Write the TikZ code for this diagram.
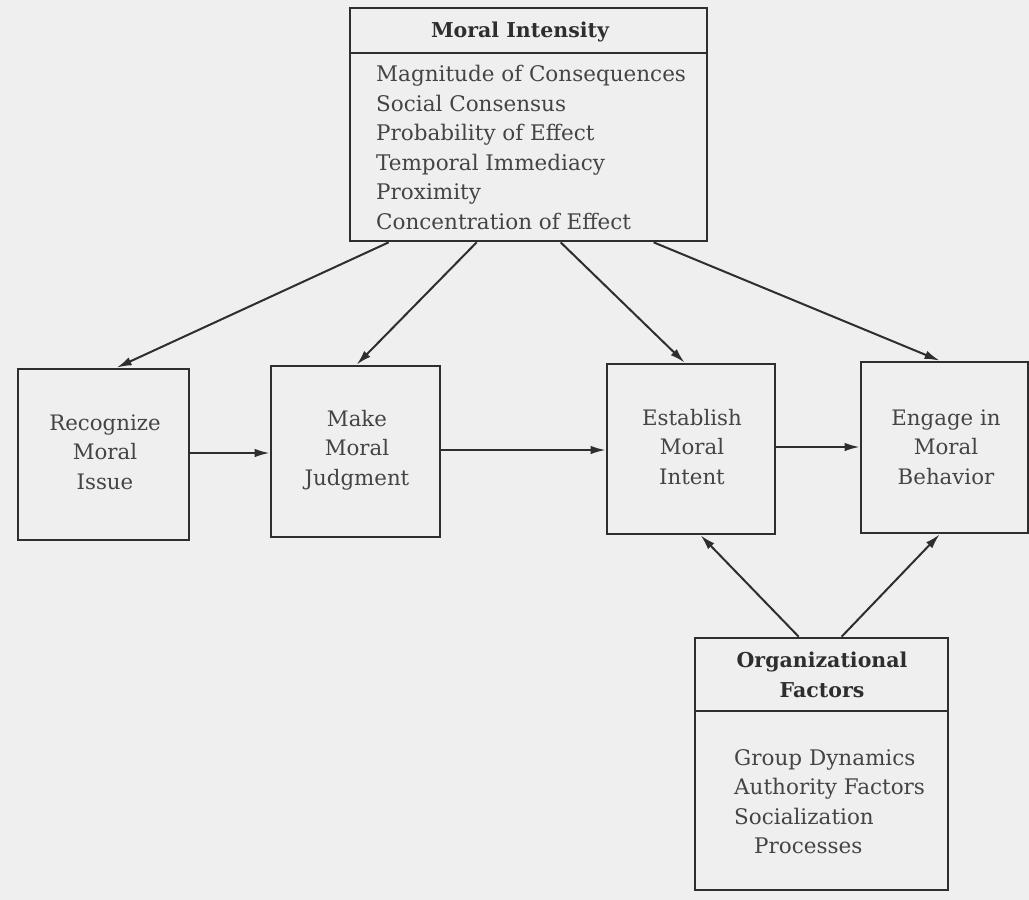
\documentclass[tikz,border=0pt]{standalone}
\usepackage{fontspec}
\setmainfont{DejaVu Serif}
\usetikzlibrary{arrows.meta,calc}
\definecolor{bg}{HTML}{EFEFEF}
\definecolor{ink}{HTML}{2E2E2E}
\definecolor{txt}{HTML}{444444}
\begin{document}
\begin{tikzpicture}[x=1pt,y=-1pt,
  box/.style={draw=ink,line width=2.7pt,rectangle,inner sep=0pt,fill=none},
  lbl/.style={text=txt,font=\fontsize{21.3}{29.5}\selectfont,align=center,inner sep=0pt},
  hdr/.style={text=ink,font=\fontsize{20.5}{29.5}\selectfont\bfseries,align=center,inner sep=0pt},
  lst/.style={text=txt,font=\fontsize{21.5}{29.5}\selectfont,align=left,inner sep=0pt,anchor=north west},
  arr/.style={draw=ink,line width=2pt,-{Latex[length=15pt,width=8.5pt]}}]
\fill[bg] (0,0) rectangle (1029,900);
\useasboundingbox (0,0) rectangle (1029,900);
% boxes
\node[box,minimum width=357pt,minimum height=233pt] (mi) at (528.5,124.5) {};
\node[box,minimum width=171pt,minimum height=171pt] (rec) at (103.5,454.5) {};
\node[box,minimum width=169pt,minimum height=171pt] (mak) at (355.5,451.5) {};
\node[box,minimum width=168pt,minimum height=170pt] (est) at (691,449) {};
\node[box,minimum width=167pt,minimum height=171pt] (eng) at (944.5,447.5) {};
\node[box,minimum width=253pt,minimum height=252pt] (org) at (821.5,764) {};
% dividers
\coordinate (mid1) at (350,53);
\coordinate (mid2) at (707,53);
\draw[ink,line width=2.7pt] (mid1) -- (mid2);
\coordinate (od1) at (695,711);
\coordinate (od2) at (948,711);
\draw[ink,line width=2.7pt] (od1) -- (od2);
% texts
\node[hdr] (mih) at (520,32) {Moral Intensity};
\node[lst] (mil) at (376,65) {Magnitude of Consequences\\Social Consensus\\Probability of Effect\\Temporal Immediacy\\Proximity\\Concentration of Effect};
\node[lbl] (rect) at (105,452) {Recognize\\Moral\\Issue};
\node[lbl] (makt) at (357,450) {Make\\Moral\\Judgment};
\node[lbl] (estt) at (692,447) {Establish\\Moral\\Intent};
\node[lbl] (engt) at (946,447) {Engage in\\Moral\\Behavior};
\node[hdr] (orgh) at (822,675) {Organizational\\Factors};
\node[lst] (orgl) at (734,749) {Group Dynamics\\Authority Factors\\Socialization\\\hspace*{20pt}Processes};
% arrows
\draw[arr] ([xshift=40pt]mi.south west) -- ([xshift=100pt]rec.north west);
\draw[arr] ([xshift=128pt]mi.south west) -- ([xshift=87pt]mak.north west);
\draw[arr] ([xshift=212pt]mi.south west) -- ([xshift=79pt]est.north west);
\draw[arr] ([xshift=305pt]mi.south west) -- ([xshift=80pt]eng.north west);
\coordinate (h1) at (0,453);
\coordinate (h2) at (0,450);
\coordinate (h3) at (0,447);
\draw[arr] (rec.east |- h1) -- (mak.west |- h1);
\draw[arr] (mak.east |- h2) -- (est.west |- h2);
\draw[arr] (est.east |- h3) -- (eng.west |- h3);
\draw[arr] ([xshift=105pt]org.north west) -- ([xshift=95pt]est.south west);
\draw[arr] ([xshift=148pt]org.north west) -- ([xshift=80pt]eng.south west);
\end{tikzpicture}
\end{document}
